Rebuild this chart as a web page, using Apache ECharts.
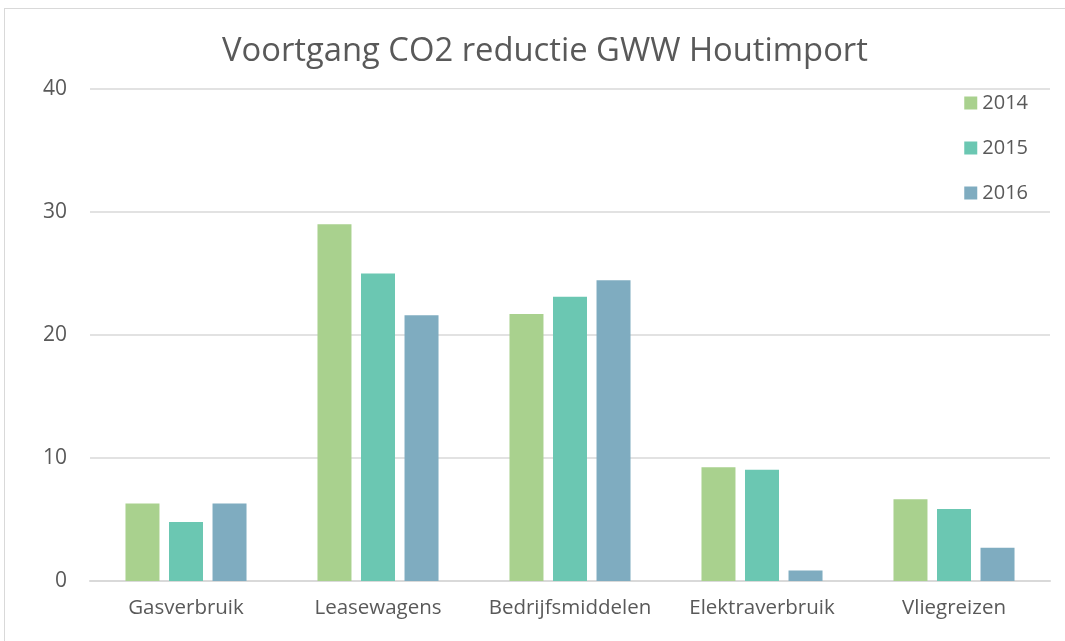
<!DOCTYPE html>
<html><head><meta charset="utf-8">
<script src="https://cdn.jsdelivr.net/npm/echarts@6/dist/echarts.min.js"></script>
<style>html,body{margin:0;padding:0;background:#fff}#c{width:1065px;height:641px}
#frame{position:absolute;left:4px;top:8px;width:1070px;height:640px;border:1px solid #d9d9d9;box-sizing:border-box;pointer-events:none}</style>
</head><body><div id="c"></div><div id="frame"></div>
<script>
const categories = ['Gasverbruik','Leasewagens','Bedrijfsmiddelen','Elektraverbruik','Vliegreizen'];
const years = ['2014','2015','2016'];
const v2014 = [6.3, 29.0, 21.7, 9.25, 6.65];
const v2015 = [4.8, 25.0, 23.1, 9.05, 5.85];
const v2016 = [6.3, 21.6, 24.45, 0.85, 2.7];
const yTicks = [0, 10, 20, 30, 40];
const colors = ['#a9d18e', '#6bc7b2', '#7facc0'];
const seriesVals = [v2014, v2015, v2016];
const chart = echarts.init(document.getElementById('c'));
const font = '"Open Sans", sans-serif';
chart.setOption({
  animation: false,
  title: { text: 'Voortgang CO2 reductie GWW Houtimport', left: 217, top: 30,
    textStyle: { fontFamily: font, fontWeight: 400, fontSize: 32.75, color: '#595959' } },
  legend: { orient: 'vertical', right: 32, top: 88, itemWidth: 13, itemHeight: 13, itemGap: 25,
    icon: 'rect', textStyle: { fontFamily: font, fontSize: 20, color: '#595959', padding: [0,0,0,0] }, data: years },
  grid: { left: 90, right: 15, top: 89, bottom: 60 },
  xAxis: { type: 'category', data: categories,
    axisLine: { lineStyle: { color: '#d9d9d9', width: 2 } }, axisTick: { show: false },
    axisLabel: { interval: 0, fontFamily: font, fontSize: 20.5, color: '#595959', margin: 17 } },
  yAxis: { type: 'value', min: yTicks[0], max: yTicks[yTicks.length-1], interval: 10,
    axisLine: { show: false }, axisTick: { show: false },
    splitLine: { lineStyle: { color: '#d9d9d9', width: 1.5 } },
    axisLabel: { fontFamily: font, fontSize: 21, color: '#595959', margin: 23 } },
  series: years.map((y, i) => ({
    name: y, type: 'bar', data: seriesVals[i], barWidth: 34, barGap: '28%', barCategoryGap: '38%',
    itemStyle: { color: colors[i], borderColor: '#fff', borderWidth: 0 }
  }))
});
</script></body></html>
